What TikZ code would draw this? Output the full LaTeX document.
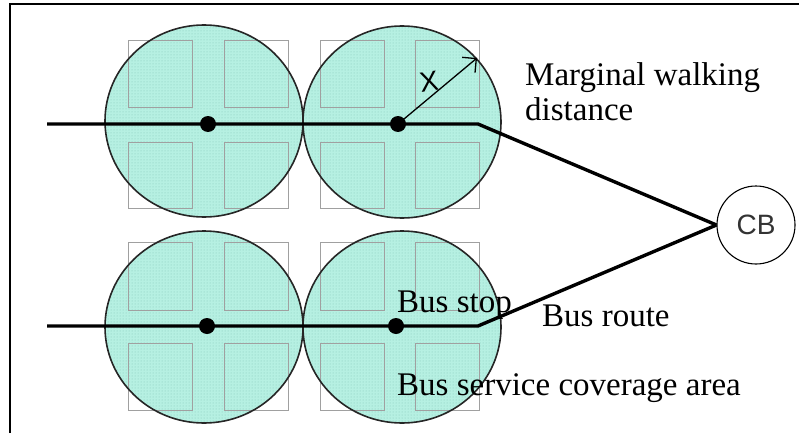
\documentclass[tikz,border=0pt]{standalone}
\usepackage{fontspec}
\setmainfont{Liberation Serif}
\newfontfamily\cbfont{Liberation Sans}
\usetikzlibrary{arrows.meta,patterns}
\definecolor{areafill}{RGB}{182,240,226}
\definecolor{areadot}{RGB}{132,200,184}
\definecolor{lotgray}{RGB}{160,160,160}

\begin{document}
\begin{tikzpicture}[x=1pt,y=-1pt,
  area/.style={fill=areafill, draw=none},
  areadots/.style={pattern=dots, pattern color=areadot},
  rim/.style={draw=black!85, line width=1.6pt},
  lot/.style={draw=lotgray, line width=0.9pt},
  route/.style={line width=3.4pt, line join=miter},
  stop/.style={circle, fill=black, inner sep=0pt, minimum size=16pt},
  radius arrow/.style={line width=1.3pt, -{Straight Barb[length=10pt,width=20pt,line width=1.3pt]}},
  hub/.style={circle, draw, line width=1.1pt, minimum size=78pt, inner sep=0pt,
    font=\cbfont\fontsize{28}{28}\selectfont, text=black!80},
  caption/.style={font=\fontsize{33}{35}\selectfont, inner sep=0pt, anchor=base west}]

\useasboundingbox (0,0) rectangle (799,433);
% frame edges
\draw[line width=2pt] (9.5,433) -- (9.5,4.5) -- (799,4.5);

% coverage areas around each stop
\foreach \cx/\cy in {204/121, 402/122, 204/327, 402/327} {
  \path[area] (\cx,\cy) ellipse [x radius=99, y radius=96];
  \path[areadots] (\cx,\cy) ellipse [x radius=99, y radius=96];
}
% city blocks
\foreach \bx in {128,224,320,415} {
  \foreach \by/\bh in {40/67, 142/66, 242/68, 343/67} {
    \draw[lot] (\bx,\by) rectangle ++(64,\bh);
  }
}
% coverage area rims
\foreach \cx/\cy in {204/121, 402/122, 204/327, 402/327} {
  \draw[rim] (\cx,\cy) ellipse [x radius=99, y radius=96];
}

% central business district
\node[hub] (cb) at (756,225) {CB};

% route end points and bends
\coordinate (topstart) at (47,124);
\coordinate (topbend) at (478,124);
\coordinate (botstart) at (47,326);
\coordinate (botbend) at (478,326);
\coordinate (radiustip) at (477,58);

\draw[route] (topstart) -- (topbend) -- (cb.west);
\draw[route] (botstart) -- (botbend) -- (cb.west);

% bus stops
\node[stop] (s1) at (208,124) {};
\node[stop] (s2) at (398,124) {};
\node[stop] (s3) at (207,326) {};
\node[stop] (s4) at (396,326) {};

% walking radius
\draw[radius arrow] (s2.center) -- (radiustip);
\node[font=\cbfont\fontsize{28}{28}\selectfont, rotate=8] (xlab) at (429,82) {X};

% captions
\node[caption] (walk1) at (525,86) {Marginal walking};
\node[caption] (walk2) at (525,121) {distance};
\node[caption] (stoplab) at (397,312) {Bus stop};
\node[caption] (routelab) at (542,326) {Bus route};
\node[caption] (arealab) at (397,395) {Bus service coverage area};
\end{tikzpicture}
\end{document}
